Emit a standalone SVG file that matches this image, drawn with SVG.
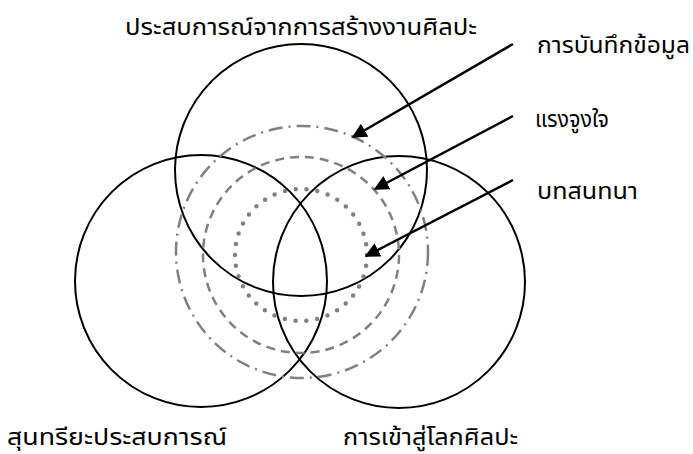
<svg xmlns="http://www.w3.org/2000/svg" width="693" height="454" viewBox="0 0 693 454">
<defs>
<style>
.lbl{font-family:"Noto Sans Thai","Noto Sans","DejaVu Sans",sans-serif;font-size:23px;fill:#000}
.ring{fill:none;stroke:#000;stroke-width:2}
.dd{fill:none;stroke:#808080;stroke-width:2.5;stroke-dasharray:14 6 2 6}
.da{fill:none;stroke:#808080;stroke-width:2.5;stroke-dasharray:9 6}
.dt{fill:none;stroke:#808080;stroke-width:4.5;stroke-linecap:round;stroke-dasharray:0 10.9}
.arr{stroke:#000;stroke-width:2.5;fill:none;marker-end:url(#ah)}
</style>
<marker id="ah" viewBox="0 0 10 10" refX="9" refY="5" markerWidth="6" markerHeight="6" markerUnits="strokeWidth" orient="auto">
<path d="M0,0 L10,5 L0,10 z" fill="#000"/>
</marker>
</defs>
<rect width="693" height="454" fill="#fff"/>
<g id="top-circle"><circle class="ring" cx="301" cy="170" r="126"/></g>
<g id="left-circle"><circle class="ring" cx="201" cy="281" r="126"/></g>
<g id="right-circle"><circle class="ring" cx="399" cy="282" r="126"/></g>
<g id="records-ring"><circle class="dd" cx="302" cy="252" r="126"/></g>
<g id="motivation-ring"><circle class="da" cx="301" cy="255" r="98"/></g>
<g id="dialogue-ring"><circle class="dt" cx="301" cy="255" r="66"/></g>
<g id="connectors">
<line class="arr" x1="513" y1="44" x2="353" y2="137"/>
<line class="arr" x1="513" y1="116" x2="375" y2="189"/>
<line class="arr" x1="513" y1="180" x2="366" y2="256"/>
</g>
<g id="labels">
<text class="lbl" x="125" y="35" textLength="352" lengthAdjust="spacingAndGlyphs">ประสบการณ์จากการสร้างงานศิลปะ</text>
<text class="lbl" x="537" y="53" textLength="153" lengthAdjust="spacingAndGlyphs">การบันทึกข้อมูล</text>
<text class="lbl" x="535" y="127" textLength="74" lengthAdjust="spacingAndGlyphs">แรงจูงใจ</text>
<text class="lbl" x="537" y="199" textLength="101" lengthAdjust="spacingAndGlyphs">บทสนทนา</text>
<text class="lbl" x="7" y="445" textLength="220" lengthAdjust="spacingAndGlyphs">สุนทรียะประสบการณ์</text>
<text class="lbl" x="343" y="445" textLength="175" lengthAdjust="spacingAndGlyphs">การเข้าสู่โลกศิลปะ</text>
</g>
</svg>
